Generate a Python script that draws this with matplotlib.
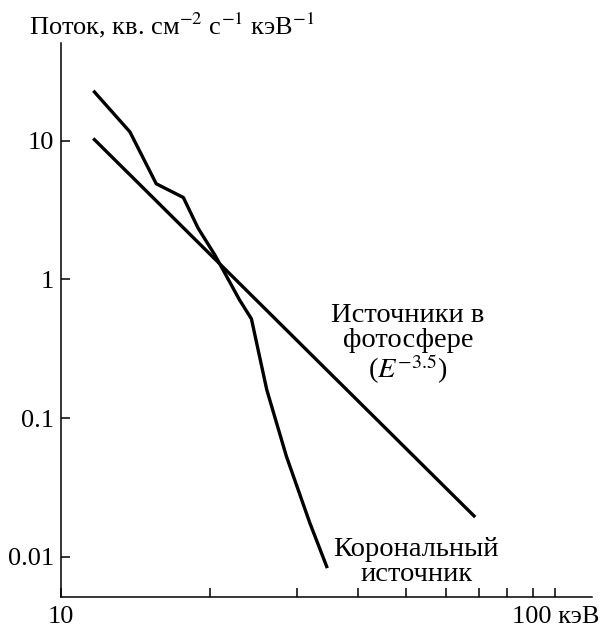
import matplotlib
matplotlib.use('Agg')
import matplotlib.pyplot as plt
from matplotlib.ticker import FixedLocator, NullFormatter, NullLocator

# -- data -- #
# coronal source spectrum (keV, photons cm^-2 s^-1 keV^-1)
coronal_E = [11.7, 13.8, 15.6, 17.7, 18.95, 20.5, 23.0, 24.3, 26.1, 28.6, 31.9, 34.5]
coronal_flux = [22.5, 11.6, 4.9, 3.9, 2.35, 1.5, 0.71, 0.52, 0.16, 0.053, 0.0175, 0.0085]

# photospheric sources, E^-3.5 power law (end points)
photo_E = [11.7, 68.5]
photo_flux = [10.2, 0.0197]

ytick_vals = [0.01, 0.1, 1, 10]
ytick_labels = ['0.01', '0.1', '1', '10']
xtick_vals = [10, 100]
xtick_labels = ['10', '100 кэВ']
xminor_vals = [20, 30, 40, 50, 60, 70, 80, 90]

plt.rcParams['font.family'] = ['Liberation Serif', 'DejaVu Serif']
plt.rcParams['mathtext.fontset'] = 'stix'

fig = plt.figure(figsize=(6.03, 6.27), dpi=100)
ax = fig.add_axes([0.1007, 0.0483, 0.8806, 0.8836])

ax.plot(coronal_E, coronal_flux, color='k', lw=2.4, solid_joinstyle='round')
ax.plot(photo_E, photo_flux, color='k', lw=2.4)

ax.set_xscale('log')
ax.set_yscale('log')
ax.set_xlim(10, 118.5)
ax.set_ylim(0.00515, 51)

for s in ['top', 'right']:
    ax.spines[s].set_visible(False)
for s in ['left', 'bottom']:
    ax.spines[s].set_linewidth(1.1)

ax.xaxis.set_major_locator(FixedLocator(xtick_vals))
ax.set_xticklabels(xtick_labels)
ax.xaxis.set_minor_locator(FixedLocator(xminor_vals))
ax.xaxis.set_minor_formatter(NullFormatter())
ax.yaxis.set_major_locator(FixedLocator(ytick_vals))
ax.set_yticklabels(ytick_labels)
ax.yaxis.set_minor_locator(NullLocator())

ax.tick_params(which='both', direction='in', length=6.5, width=1.1, labelsize=19)
ax.tick_params(axis='x', pad=7)
ax.tick_params(axis='y', pad=5)

# axis title above the y axis
fig.text(0.048, 0.960, 'Поток, кв. см$^{-2}$ с$^{-1}$ кэВ$^{-1}$', fontsize=19,
         ha='left', va='center')

# curve annotations
ax.text(50.4, 0.34, 'Источники в\nфотосфере\n($E^{-3.5}$)', fontsize=20.5,
        ha='center', va='center', linespacing=1.0)
ax.text(52.3, 0.0092, 'Корональный\nисточник', fontsize=20.5,
        ha='center', va='center', linespacing=1.0)

plt.savefig('out.png', dpi=100)
plt.close('all')
